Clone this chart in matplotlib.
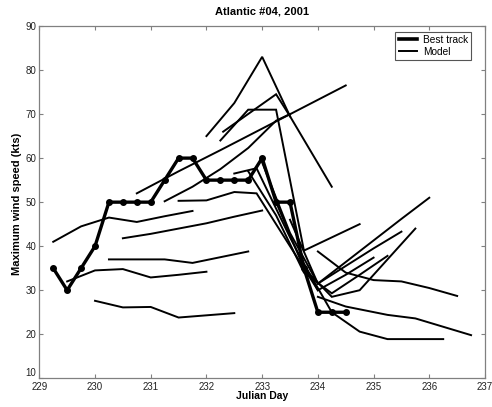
import matplotlib
matplotlib.use("Agg")
import matplotlib.pyplot as plt
from matplotlib.lines import Line2D

plt.rcParams['font.family'] = ['Liberation Sans', 'DejaVu Sans']

# ---------------- data ----------------
title_text = "Atlantic #04, 2001"
x_label = "Julian Day"
y_label = "Maximum wind speed (kts)"
x_ticks = [229, 230, 231, 232, 233, 234, 235, 236, 237]
y_ticks = [10, 20, 30, 40, 50, 60, 70, 80, 90]
legend_labels = ["Best track", "Model"]

best_day = [229.25, 229.5, 229.75, 230.0, 230.25, 230.5, 230.75, 231.0, 231.25,
            231.5, 231.75, 232.0, 232.25, 232.5, 232.75, 233.0, 233.25, 233.5,
            233.75, 234.0, 234.25, 234.5]
best_wind = [35, 30, 35, 40, 50, 50, 50, 50, 55, 60, 60, 55, 55, 55, 55, 60, 50, 50,
             35, 25, 25, 25]

m01_day = [229.25, 229.75, 230.25, 230.75, 231.25, 231.75]
m01_wind = [41, 44.5, 46.5, 45.5, 46.8, 48]
m02_day = [229.5, 230.0, 230.5, 231.0, 231.5, 232.0]
m02_wind = [32, 34.5, 34.8, 32.9, 33.5, 34.2]
m03_day = [230.0, 230.5, 231.0, 231.5, 232.0, 232.5]
m03_wind = [27.6, 26.1, 26.2, 23.8, 24.3, 24.8]
m04_day = [230.25, 230.75, 231.25, 231.75, 232.25, 232.75]
m04_wind = [37, 37, 37, 36.2, 37.5, 38.8]
m05_day = [230.5, 231.0, 231.5, 232.0, 232.5, 233.0]
m05_wind = [41.8, 42.8, 44.0, 45.2, 46.7, 48.1]
m06_day = [230.75, 231.5, 232.25, 233.0, 233.75, 234.5]
m06_wind = [52, 57, 61.8, 66.7, 71.6, 76.5]
m07_day = [231.25, 231.75, 232.25, 232.75, 233.25, 233.5]
m07_wind = [50.2, 53.5, 57.5, 62.3, 68.5, 70]
m08_day = [231.5, 232.0, 232.5, 232.9, 233.5, 234.0]
m08_wind = [50.3, 50.4, 52.3, 52, 40, 30]
m09_day = [232.0, 232.5, 233.0, 233.5, 234.25]
m09_wind = [65, 72.5, 83, 69.5, 53.5]
m10_day = [232.25, 232.75, 233.25, 233.75, 234.75]
m10_wind = [64, 71, 71, 39, 45]
m11_day = [232.3, 233.25, 233.5]
m11_wind = [66, 74.5, 69.5]
m12_day = [232.5, 232.9, 233.5, 234.0, 234.5, 235.0]
m12_wind = [56.5, 57.7, 42, 30, 33.5, 37.4]
m13_day = [232.75, 233.25, 233.75, 234.25, 234.75, 235.25]
m13_wind = [57, 47, 34, 29.3, 33.5, 37.8]
m14_day = [233.0, 233.5, 234.0, 234.5, 235.0, 235.5]
m14_wind = [59, 43, 31.5, 35.5, 39.5, 43.3]
m15_day = [233.25, 233.75, 234.25, 234.75, 235.25, 235.75]
m15_wind = [50, 35, 28.5, 30, 37, 44]
m16_day = [233.5, 234.0, 234.5, 235.0, 235.5, 236.0]
m16_wind = [46, 31.5, 36.4, 41.3, 46.2, 51]
m17_day = [233.75, 234.25, 234.75, 235.25, 235.75, 236.25]
m17_wind = [36, 25, 20.6, 18.9, 18.9, 18.9]
m18_day = [234.0, 234.5, 235.0, 235.5, 236.0, 236.5]
m18_wind = [38.8, 34, 32.3, 32, 30.5, 28.7]
m19_day = [234.0, 234.5, 235.25, 235.75, 236.25, 236.75]
m19_wind = [28.5, 26.3, 24.4, 23.6, 21.7, 19.8]

model_runs = [
    (m01_day, m01_wind), (m02_day, m02_wind), (m03_day, m03_wind),
    (m04_day, m04_wind), (m05_day, m05_wind), (m06_day, m06_wind),
    (m07_day, m07_wind), (m08_day, m08_wind), (m09_day, m09_wind),
    (m10_day, m10_wind), (m11_day, m11_wind), (m12_day, m12_wind),
    (m13_day, m13_wind), (m14_day, m14_wind), (m15_day, m15_wind),
    (m16_day, m16_wind), (m17_day, m17_wind), (m18_day, m18_wind),
    (m19_day, m19_wind),
]

# ---------------- figure ----------------
W, H = 492, 407
fig = plt.figure(figsize=(W / 100, H / 100), dpi=100)
ax = fig.add_axes([39.3 / W, (H - 378.3) / H, (485 - 39.3) / W, (378.3 - 26) / H])

for d, w in model_runs:
    ax.plot(d, w, color='black', lw=1.4, solid_joinstyle='miter')

ax.plot(best_day, best_wind, color='black', lw=2.4, marker='o', ms=4,
        markerfacecolor='black', markeredgecolor='black')

ax.set_xlim(229, 237)
ax.set_ylim(10, 90)
ax.set_xticks(x_ticks)
ax.set_yticks(y_ticks)
ax.set_xticklabels([str(t) for t in x_ticks])
ax.set_yticklabels([str(t) for t in y_ticks])

spine_col = '#808080'
for s in ax.spines.values():
    s.set_color(spine_col)
    s.set_linewidth(0.9)
ax.tick_params(direction='in', length=3, width=0.8, color=spine_col,
               top=True, right=True, labelsize=7, labelcolor='#222222', pad=2)
ax.tick_params(axis='x', pad=3)
# lowest y label sits just above the axis corner, as in the reference
ax.get_yticklabels()[0].set_va('bottom')

handles = [Line2D([], [], color='black', lw=2.6), Line2D([], [], color='black', lw=1.4)]
leg = ax.legend(handles, legend_labels, loc='upper right',
                bbox_to_anchor=(0.9686, 0.9838), borderaxespad=0,
                fontsize=7.3, handlelength=1.85, handletextpad=0.55,
                labelspacing=0.2, borderpad=0.3, fancybox=False, framealpha=1)
leg.get_frame().set_edgecolor('#555555')
leg.get_frame().set_linewidth(0.8)

fig.text(262 / W, 1 - 12 / H, title_text, ha='center', va='center',
         fontsize=8, fontweight='bold')
fig.text(262 / W, 1 - 396 / H, x_label, ha='center', va='center',
         fontsize=7.5, fontweight='bold')
fig.text(17 / W, 1 - 204 / H, y_label, ha='center', va='center', rotation=90,
         fontsize=8, fontweight='bold')

fig.savefig('out.png', dpi=100)
